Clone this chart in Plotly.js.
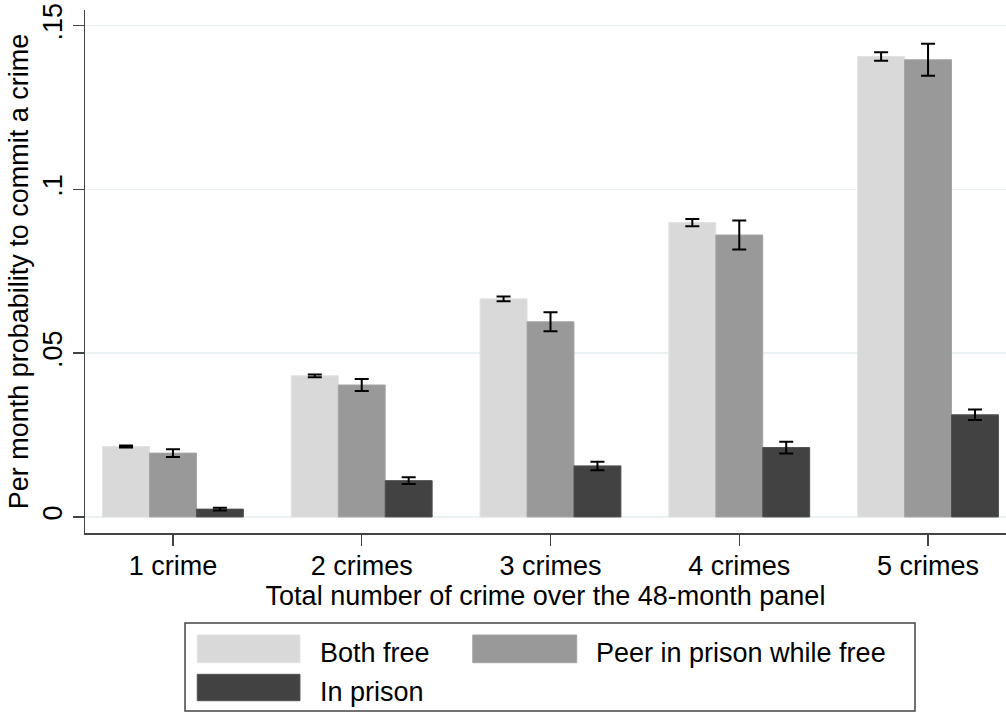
<!DOCTYPE html>
<html>
<head>
<meta charset="utf-8">
<script src="https://cdn.plot.ly/plotly-3.0.1.min.js"></script>
<style>
html,body{margin:0;padding:0;background:#fff;}
#chart{width:1006px;height:713px;}
</style>
</head>
<body>
<div id="chart"></div>
<script>
// ---- data ----
const categories = ["1 crime", "2 crimes", "3 crimes", "4 crimes", "5 crimes"];
const seriesNames = ["Both free", "Peer in prison while free", "In prison"];
const bothFree      = [0.0215, 0.0431, 0.0666, 0.0899, 0.1406];
const bothFreeErr   = [0.0003, 0.0004, 0.0007, 0.0011, 0.0013];
const peerInPrison  = [0.0195, 0.0403, 0.0596, 0.0861, 0.1396];
const peerErr       = [0.0012, 0.0018, 0.0029, 0.0044, 0.0049];
const inPrison      = [0.0024, 0.0111, 0.0156, 0.0212, 0.0312];
const inPrisonErr   = [0.0004, 0.0010, 0.0013, 0.0018, 0.0016];
const yTickVals  = [0, 0.05, 0.1, 0.15];
const yTickText  = ["0", ".05", ".1", ".15"];

const colors = ["#d9d9d9", "#999999", "#424242"];
const lineColors = ["#e2e2e2", "#a5a5a5", "#505050"];
const values = [bothFree, peerInPrison, inPrison];
const errors = [bothFreeErr, peerErr, inPrisonErr];

const FONT = "Liberation Sans, Arial, Helvetica, sans-serif";
const FS = 27;

const traces = values.map((v, i) => ({
  type: "bar",
  name: seriesNames[i],
  x: categories.map((c, k) => k),
  y: v,
  marker: {color: colors[i], line: {color: lineColors[i], width: 1}},
  error_y: {type: "data", array: errors[i], visible: true, color: "#000", thickness: 2, width: 7},
  showlegend: false,
  hoverinfo: "skip"
}));

// custom Stata-style legend (paper coordinates)
const swatchX = [[0.1219, 0.2334], [0.4210, 0.5339], [0.1219, 0.2334]];
const swatchY = [[-0.1950, -0.2480], [-0.1950, -0.2480], [-0.2702, -0.3207]];
const textX = [0.2533, 0.5527, 0.2533];
const textY = [-0.2285, -0.2285, -0.3031];

const shapes = [{
  type: "rect", xref: "paper", yref: "paper",
  x0: 0.1086, x1: 0.9012, y0: -0.1721, y1: -0.3403,
  line: {color: "#444", width: 1.5}, fillcolor: "rgba(0,0,0,0)"
}];
const annotations = [];
seriesNames.forEach((n, i) => {
  shapes.push({
    type: "rect", xref: "paper", yref: "paper",
    x0: swatchX[i][0], x1: swatchX[i][1], y0: swatchY[i][0], y1: swatchY[i][1],
    line: {color: lineColors[i], width: 1}, fillcolor: colors[i]
  });
  annotations.push({
    xref: "paper", yref: "paper", x: textX[i], y: textY[i],
    xanchor: "left", yanchor: "middle", showarrow: false,
    text: n, font: {family: FONT, size: FS, color: "#000"}
  });
});

const layout = {
  width: 1006, height: 713,
  margin: {l: 85, r: 0, t: 10, b: 180, pad: 0},
  paper_bgcolor: "#fff", plot_bgcolor: "#fff",
  barmode: "group", bargap: 0.254, bargroupgap: 0,
  font: {family: FONT, size: FS, color: "#000"},
  xaxis: {
    type: "linear",
    range: [-0.466, 4.413],
    tickvals: categories.map((c, k) => k),
    ticktext: categories,
    ticks: "outside", ticklen: 11, tickwidth: 1.5, tickcolor: "#444",
    ticklabelstandoff: -3,
    showgrid: false, zeroline: false,
    showline: true, linecolor: "#444", linewidth: 1.5,
    tickfont: {family: FONT, size: FS, color: "#000"},
    title: {text: "Total number of crime over the 48-month panel", font: {family: FONT, size: FS, color: "#000"}, standoff: 0},
    fixedrange: true
  },
  yaxis: {
    range: [-0.00489, 0.1548],
    tickvals: yTickVals, ticktext: yTickText,
    tickangle: -90,
    ticks: "outside", ticklen: 11, tickwidth: 1.5, tickcolor: "#444",
    showgrid: true, gridcolor: "#eaf2f3", gridwidth: 1.5,
    zeroline: false,
    showline: true, linecolor: "#444", linewidth: 1.5,
    tickfont: {family: FONT, size: FS, color: "#000"},
    title: {text: "Per month probability to commit a crime", font: {family: FONT, size: FS, color: "#000"}, standoff: 1},
    fixedrange: true
  },
  shapes: shapes,
  annotations: annotations,
  showlegend: false
};

Plotly.newPlot("chart", traces, layout, {displayModeBar: false, staticPlot: true});
</script>
</body>
</html>
